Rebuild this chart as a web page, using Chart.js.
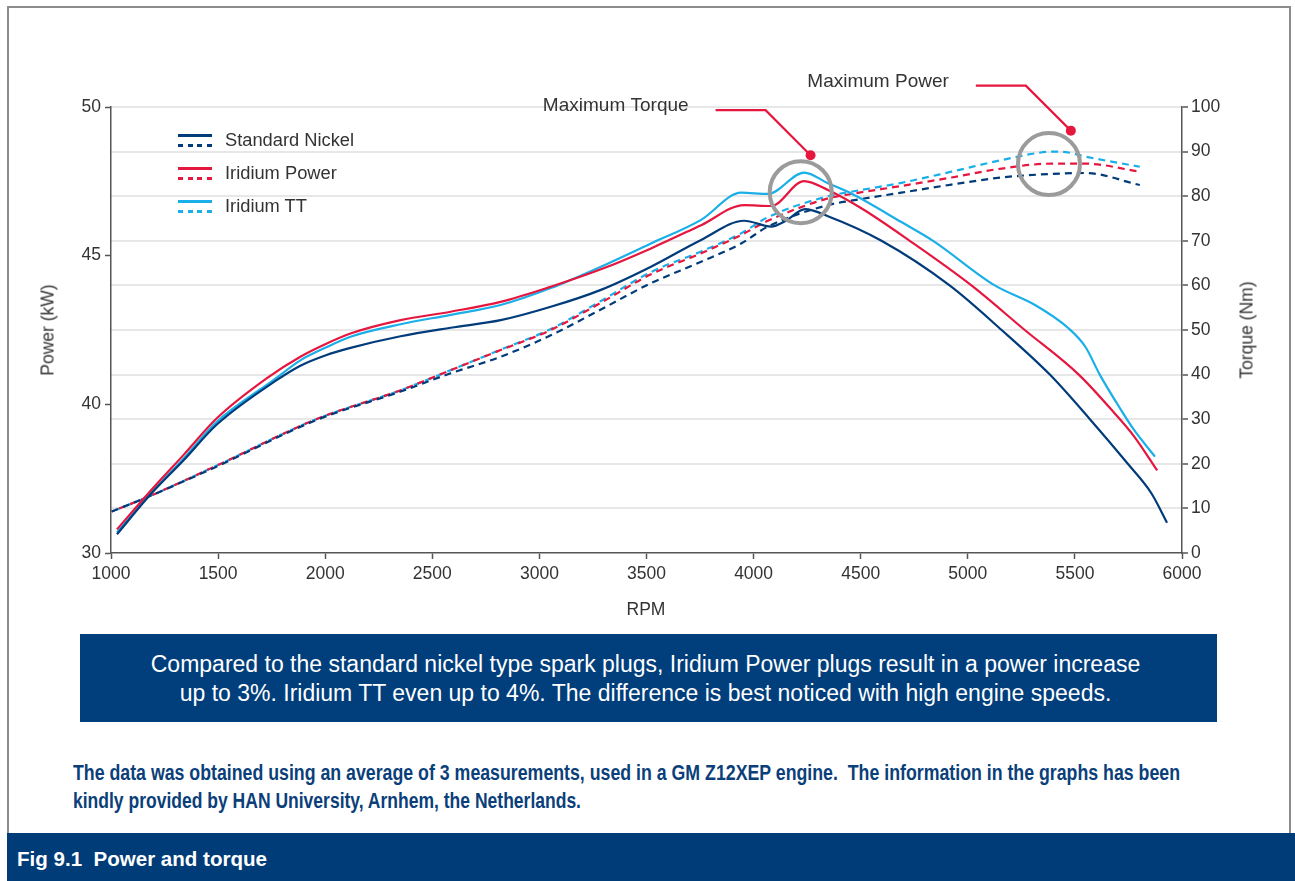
<!DOCTYPE html>
<html>
<head>
<meta charset="utf-8">
<title>Power and torque</title>
<script src="https://cdn.jsdelivr.net/npm/chart.js@4.4.1/dist/chart.umd.min.js"></script>
<style>
  html, body { margin: 0; padding: 0; background: #fff; }
  body {
    width: 1295px; height: 881px; position: relative; overflow: hidden;
    font-family: "Liberation Sans", Arial, Helvetica, sans-serif; color: #333;
  }
  .frame {
    position: absolute; left: 7px; top: 6px; width: 1284px; height: 840px;
    border: 2px solid #8c8c8c; border-bottom: none; box-sizing: border-box;
  }
  #chartBox { position: absolute; left: 0; top: 0; width: 1295px; height: 640px; }
  .axis-title { position: absolute; font-size: 17.5px; color: #333; white-space: nowrap; }
  .rot { transform: translate(-50%, -50%) rotate(-90deg); }
  .ctr { transform: translate(-50%, -50%); }
  .legend { position: absolute; left: 178px; top: 126px; }
  .legend .item { position: relative; height: 33px; }
  .legend .solid { position: absolute; left: 0; top: 8px; width: 34px; height: 2.5px; }
  .legend .dash { position: absolute; left: 0; top: 18px; width: 34px; height: 2.5px; }
  .legend .label { position: absolute; left: 47px; top: 3px; font-size: 18.3px; white-space: nowrap; }
  .note {
    position: absolute; left: 80px; top: 634px; width: 1137px; height: 88px;
    background: #003e7c; color: #fff; text-align: center;
    font-size: 23px; line-height: 29px; box-sizing: border-box; padding-top: 16px; padding-right: 6px;
  }
  .source {
    position: absolute; left: 73px; top: 759px; color: #0b3f7a;
    font-weight: bold; font-size: 22px; line-height: 28px; white-space: nowrap;
  }
  .source div { transform-origin: 0 50%; }
  .banner {
    position: absolute; left: 7px; top: 833px; width: 1288px; height: 48px;
    background: #003c78; color: #fff; font-weight: bold; font-size: 19.5px;
    line-height: 52px; box-sizing: border-box; padding-left: 10px; white-space: nowrap;
  }
  .banner span { display: inline-block; transform-origin: 0 50%; }
</style>
</head>
<body>
<div class="frame"></div>
<div id="chartBox"><canvas id="chart"></canvas></div>

<div class="axis-title rot" style="left:48px; top:330px;">Power (kW)</div>
<div class="axis-title rot" style="left:1247px; top:330px;">Torque (Nm)</div>
<div class="axis-title ctr" style="left:646px; top:609px;">RPM</div>

<div class="legend" id="legend"></div>

<div class="note">Compared to the standard nickel type spark plugs, Iridium Power plugs result in a power increase<br>up to 3%. Iridium TT even up to 4%. The difference is best noticed with high engine speeds.</div>

<div class="source">
  <div data-fit="1107">The data was obtained using an average of 3 measurements, used in a GM Z12XEP engine.&nbsp; The information in the graphs has been</div>
  <div data-fit="508">kindly provided by HAN University, Arnhem, the Netherlands.</div>
</div>

<div class="banner"><span data-fit="250">Fig 9.1&nbsp; Power and torque</span></div>

<script>
// ---- series ----------------------------------------------------------------
const seriesNames = ['Standard Nickel', 'Iridium Power', 'Iridium TT'];
const seriesColors = ['#003b7a', '#e5173f', '#1aafe8'];

// torque curves (solid), Nm against RPM
const nickelTorqueRpm = [1028, 1182, 1339, 1494, 1775, 1884, 2000, 2118, 2352, 2586, 2819, 3053, 3287, 3521, 3755, 3956, 4082, 4150, 4240, 4347, 4597, 4915, 5158, 5383, 5570, 5747, 5857, 5930];
const nickelTorque    = [4.2, 13.0, 20.8, 28.8, 38.8, 42.0, 44.3, 46.0, 48.6, 50.5, 52.2, 55.2, 59.0, 64.2, 70.2, 74.5, 73.2, 74.5, 77.1, 75.5, 70.0, 60.0, 50.0, 40.0, 30.0, 20.0, 13.4, 6.8];

const powerPlugTorqueRpm = [1028, 1182, 1339, 1494, 1728, 1884, 2000, 2118, 2352, 2586, 2819, 3053, 3287, 3521, 3755, 3956, 4082, 4236, 4347, 4503, 4729, 5017, 5266, 5518, 5684, 5777, 5884];
const powerPlugTorque    = [5.3, 13.8, 22.0, 30.2, 39.2, 44.0, 46.8, 49.2, 52.2, 54.1, 56.3, 59.7, 63.6, 68.3, 73.5, 78.0, 77.8, 83.4, 81.4, 77.3, 70.0, 60.0, 50.0, 40.0, 31.4, 26.1, 18.5];

const ttTorqueRpm = [1028, 1182, 1339, 1494, 1760, 1884, 2000, 2118, 2352, 2586, 2819, 3053, 3287, 3521, 3755, 3942, 4067, 4236, 4347, 4456, 4690, 4838, 5126, 5314, 5470, 5548, 5616, 5715, 5776, 5874];
const ttTorque    = [4.6, 13.2, 21.2, 29.4, 38.8, 43.2, 46.0, 48.5, 51.3, 53.4, 55.6, 59.4, 64.2, 69.4, 74.7, 80.8, 80.5, 85.3, 82.9, 80.6, 74.2, 70.0, 60.0, 55.6, 50.4, 46.3, 40.0, 32.1, 27.6, 21.6];

// power curves (dashed), drawn on the same right-hand grid
const nickelPowerRpm = [1003, 1173, 1494, 1958, 2352, 2586, 2819, 3053, 3287, 3521, 3755, 3942, 4067, 4347, 4456, 4690, 4924, 5158, 5392, 5548, 5803];
const nickelPower    = [9.3, 12.6, 19.4, 29.8, 36.2, 40.3, 44.0, 48.8, 54.6, 60.5, 65.3, 69.4, 73.2, 78.0, 79.0, 80.8, 82.6, 84.2, 85.0, 85.2, 82.5];

const powerPlugPowerRpm = [1003, 1173, 1494, 1958, 2352, 2586, 2819, 3053, 3287, 3521, 3755, 3942, 4067, 4347, 4456, 4690, 4924, 5158, 5392, 5548, 5803];
const powerPlugPower    = [9.3, 12.6, 19.6, 30.0, 36.5, 41.0, 45.5, 50.0, 56.1, 62.5, 67.2, 71.3, 74.5, 79.5, 80.5, 82.3, 84.2, 86.2, 87.3, 87.3, 85.5];

const ttPowerRpm = [1003, 1173, 1494, 1958, 2352, 2586, 2819, 3053, 3287, 3521, 3755, 3942, 4067, 4347, 4456, 4690, 4924, 5158, 5314, 5392, 5470, 5548, 5803];
const ttPower    = [9.3, 12.6, 19.6, 30.0, 36.5, 41.0, 45.6, 50.2, 56.5, 63.0, 67.6, 71.7, 75.3, 80.0, 81.0, 83.0, 85.5, 88.1, 89.6, 90.0, 89.8, 88.9, 86.6];

// axis ticks
const rpmTicks = [1000, 1500, 2000, 2500, 3000, 3500, 4000, 4500, 5000, 5500, 6000];
const torqueTicks = [0, 10, 20, 30, 40, 50, 60, 70, 80, 90, 100];
const powerTickLabels = ['30', '40', '45', '50'];

// call-outs: red dot position (RPM, Nm) and ring centres
const callouts = [
  { text: 'Maximum Torque', rpm: 4266, nm: 89.2 },
  { text: 'Maximum Power',  rpm: 5481, nm: 94.7 }
];
const peakRings = [
  { rpm: 4220, nm: 80.9 },
  { rpm: 5379, nm: 87.2 }
];

// ---- helpers ---------------------------------------------------------------
const pairUp = (xs, ys) => xs.map((x, i) => ({ x: x, y: ys[i] }));
const FONT = '"Liberation Sans", Arial, Helvetica, sans-serif';

function line(label, xs, ys, color, dashed, offset) {
  return {
    label: label,
    data: pairUp(xs, ys),
    borderColor: color,
    backgroundColor: color,
    borderWidth: 2.2,
    borderDash: dashed ? [7, 5] : [],
    borderDashOffset: offset || 0,
    pointRadius: 0,
    fill: false,
    cubicInterpolationMode: 'monotone',
    yAxisID: 'y'
  };
}

// ---- legend (HTML) ---------------------------------------------------------
const legendEl = document.getElementById('legend');
seriesNames.forEach((name, i) => {
  const c = seriesColors[i];
  const item = document.createElement('div');
  item.className = 'item';
  item.innerHTML =
    '<div class="solid" style="background:' + c + '"></div>' +
    '<div class="dash" style="background:repeating-linear-gradient(to right,' + c + ' 0 5px, transparent 5px 9.7px)"></div>' +
    '<div class="label">' + name + '</div>';
  legendEl.appendChild(item);
});

// ---- call-out drawing ------------------------------------------------------
const calloutPlugin = {
  id: 'callouts',
  afterDatasetsDraw(chart) {
    const ctx = chart.ctx;
    const xs = chart.scales.x, ys = chart.scales.y;
    ctx.save();
    // grey rings around the peaks
    ctx.strokeStyle = '#9b9b9b';
    ctx.lineWidth = 4;
    peakRings.forEach(r => {
      ctx.beginPath();
      ctx.arc(xs.getPixelForValue(r.rpm), ys.getPixelForValue(r.nm), 31, 0, Math.PI * 2);
      ctx.stroke();
    });
    // red leader lines with dots and labels
    callouts.forEach(c => {
      const px = xs.getPixelForValue(c.rpm), py = ys.getPixelForValue(c.nm);
      const ex = px - 45, ey = py - 45, sx = ex - 50;
      ctx.strokeStyle = '#e5173f';
      ctx.lineWidth = 2.2;
      ctx.beginPath();
      ctx.moveTo(sx, ey);
      ctx.lineTo(ex, ey);
      ctx.lineTo(px, py);
      ctx.stroke();
      ctx.fillStyle = '#e5173f';
      ctx.beginPath();
      ctx.arc(px, py, 5, 0, Math.PI * 2);
      ctx.fill();
      ctx.fillStyle = '#333';
      ctx.font = '19px ' + FONT;
      ctx.textAlign = 'right';
      ctx.textBaseline = 'middle';
      ctx.fillText(c.text, sx - 27, ey - 4);
    });
    ctx.restore();
  }
};

// ---- chart -----------------------------------------------------------------
const tickFont = { family: FONT, size: 17.5 };
const axisDark = '#555';

new Chart(document.getElementById('chart'), {
  type: 'line',
  data: {
    datasets: [
      line(seriesNames[0] + ' torque', nickelTorqueRpm, nickelTorque, seriesColors[0], false),
      line(seriesNames[1] + ' torque', powerPlugTorqueRpm, powerPlugTorque, seriesColors[1], false),
      line(seriesNames[2] + ' torque', ttTorqueRpm, ttTorque, seriesColors[2], false),
      line(seriesNames[0] + ' power', nickelPowerRpm, nickelPower, seriesColors[0], true, 0),
      line(seriesNames[1] + ' power', powerPlugPowerRpm, powerPlugPower, seriesColors[1], true, 4),
      line(seriesNames[2] + ' power', ttPowerRpm, ttPower, seriesColors[2], true, 8)
    ]
  },
  options: {
    responsive: true,
    maintainAspectRatio: false,
    animation: false,
    layout: { padding: { top: 107, left: 0, right: 0, bottom: 0 } },
    plugins: { legend: { display: false }, tooltip: { enabled: false } },
    scales: {
      x: {
        type: 'linear',
        min: rpmTicks[0],
        max: rpmTicks[rpmTicks.length - 1],
        afterBuildTicks: s => { s.ticks = rpmTicks.map(v => ({ value: v })); },
        afterFit: s => { s.height = 87; },
        grid: { drawOnChartArea: false, tickLength: 6, tickColor: axisDark, tickWidth: 1.5 },
        border: { color: axisDark, width: 1.5 },
        ticks: { font: tickFont, color: '#333', padding: 5, maxRotation: 0, callback: v => String(v) }
      },
      yPower: {
        type: 'linear',
        position: 'left',
        min: 0,
        max: powerTickLabels.length - 1,
        afterBuildTicks: s => { s.ticks = powerTickLabels.map((_, i) => ({ value: i })); },
        afterFit: s => { s.width = 111; },
        grid: { drawOnChartArea: false, tickLength: 6, tickColor: axisDark, tickWidth: 1.5 },
        border: { color: axisDark, width: 1.5 },
        ticks: { font: tickFont, color: '#333', padding: 4, callback: v => powerTickLabels[v] }
      },
      y: {
        type: 'linear',
        position: 'right',
        min: torqueTicks[0],
        max: torqueTicks[torqueTicks.length - 1],
        afterBuildTicks: s => { s.ticks = torqueTicks.map(v => ({ value: v })); },
        afterFit: s => { s.width = 113; },
        grid: {
          drawOnChartArea: true,
          color: c => (c.tick && c.tick.value === 0) ? 'rgba(0,0,0,0)' : '#e7e7e7',
          lineWidth: 2,
          tickLength: 6,
          tickColor: axisDark,
          tickWidth: 1.5
        },
        border: { color: axisDark, width: 1.5 },
        ticks: { font: tickFont, color: '#333', padding: 3, callback: v => String(v) }
      }
    }
  },
  plugins: [calloutPlugin]
});

// the footnote and caption are set in a condensed bold face: squeeze each line to its measure
document.querySelectorAll('[data-fit]').forEach(el => {
  const prev = el.style.display;
  el.style.display = 'inline-block';
  const w = el.getBoundingClientRect().width;
  const target = parseFloat(el.getAttribute('data-fit'));
  el.style.transform = 'scaleX(' + (target / w) + ')';
  if (el.tagName === 'DIV') { el.style.display = 'block'; el.style.width = w + 'px'; }
  else { el.style.display = prev || 'inline-block'; }
});
</script>
</body>
</html>
